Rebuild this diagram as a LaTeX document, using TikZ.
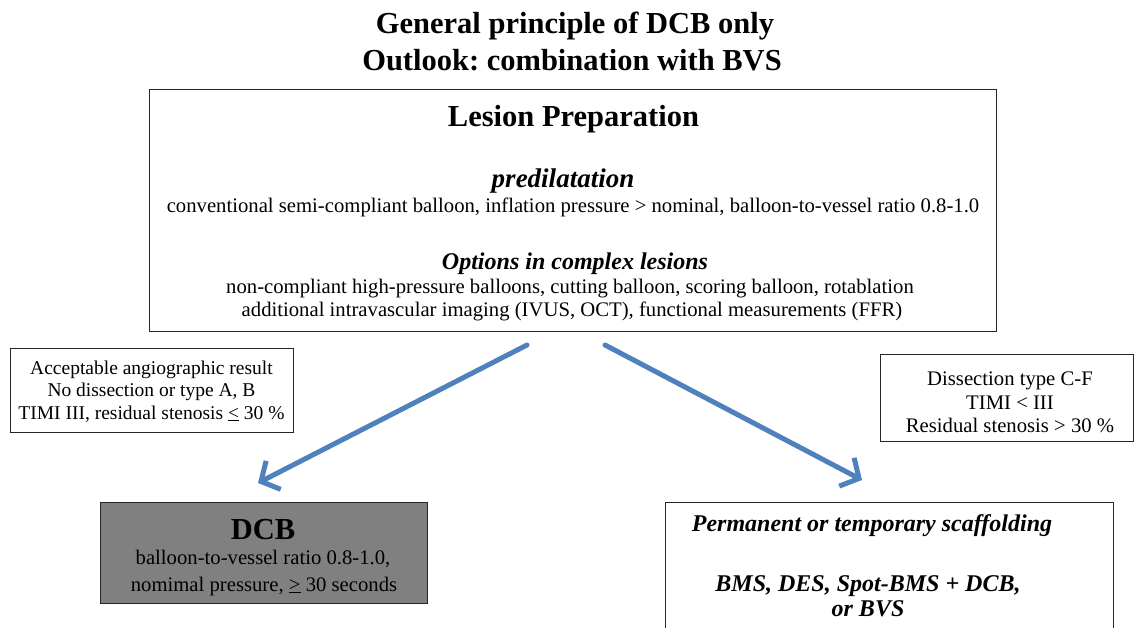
\documentclass[tikz,border=0pt]{standalone}
\usepackage{fontspec}
\setmainfont{Liberation Serif}
\usetikzlibrary{arrows.meta}
\definecolor{arrowblue}{RGB}{79,129,189}
\definecolor{dcbgray}{RGB}{128,128,128}
\frenchspacing
\tikzset{
  box/.style={draw=black!85, line width=1.1pt, rectangle, inner sep=0pt, anchor=north west},
  txt/.style={inner sep=0pt, anchor=base},
  body/.style={txt, font=\fontsize{20.7}{24}\selectfont},
  small/.style={txt, font=\fontsize{19.5}{23}\selectfont},
  head/.style={txt, font=\fontsize{30.5}{34}\selectfont\bfseries},
  sub/.style={txt, font=\fontsize{24}{28}\selectfont\bfseries\itshape},
  flow/.style={draw=arrowblue, line width=5pt, line cap=round, -{Straight Barb[length=14pt,width=32pt,line width=5pt]}}
}
\begin{document}
\begin{tikzpicture}[x=1pt,y=-1pt]
\useasboundingbox[fill=white] (0,0) rectangle (1135,627);
% title
\node[head] (t1) at (575,33) {General principle of DCB only};
\node[head] (t2) at (572,70) {Outlook: combination with BVS};
% main box
\node[box, minimum width=847pt, minimum height=242pt] (main) at (149,89) {};
\node[head] (lp) at (573.5,126) {Lesion Preparation};
\node[sub, font=\fontsize{27}{30}\selectfont\bfseries\itshape] (pre) at (563,187) {predilatation};
\node[body] (pre1) at (573,212) {conventional semi-compliant balloon, inflation pressure > nominal, balloon-to-vessel ratio 0.8-1.0};
\node[sub] (opt) at (575,269) {Options in complex lesions};
\node[body] (opt1) at (570,293) {non-compliant high-pressure balloons, cutting balloon, scoring balloon, rotablation};
\node[body] (opt2) at (572,316) {additional intravascular imaging (IVUS, OCT), functional measurements (FFR)};
% left condition box
\node[box, minimum width=283pt, minimum height=84pt] (lc) at (10,348) {};
\node[small] (lc1) at (151.5,374) {Acceptable angiographic result};
\node[small] (lc2) at (151.5,396) {No dissection or type A, B};
\node[small] (lc3) at (151.5,419) {TIMI III, residual stenosis \underline{<} 30 \%};
% right condition box
\node[box, minimum width=253pt, minimum height=87pt] (rc) at (880,354) {};
\node[body] (rc1) at (1010,385) {Dissection type C-F};
\node[body] (rc2) at (1010,409) {TIMI < III};
\node[body] (rc3) at (1010,432) {Residual stenosis > 30 \%};
% DCB box
\node[box, fill=dcbgray, minimum width=327pt, minimum height=101pt] (dcb) at (100,502) {};
\node[head] (dcbt) at (263,539) {DCB};
\node[body] (dcb1) at (263,564) {balloon-to-vessel ratio 0.8-1.0,};
\node[body] (dcb2) at (264,591) {nomimal pressure, \underline{>} 30 seconds};
% scaffolding box
\node[box, minimum width=448pt, minimum height=140pt] (sc) at (665,502) {};
\node[sub] (sct) at (872,531) {Permanent or temporary scaffolding};
\node[sub] (sc1) at (868,591) {BMS, DES, Spot-BMS + DCB,};
\node[sub] (sc2) at (868,616) {or BVS};
% arrows
\coordinate (ls) at (527,345);
\coordinate (le) at (258,483);
\coordinate (rs) at (605,345);
\coordinate (re) at (862,480);
\draw[flow] (ls) -- (le);
\draw[flow] (rs) -- (re);
\end{tikzpicture}
\end{document}
